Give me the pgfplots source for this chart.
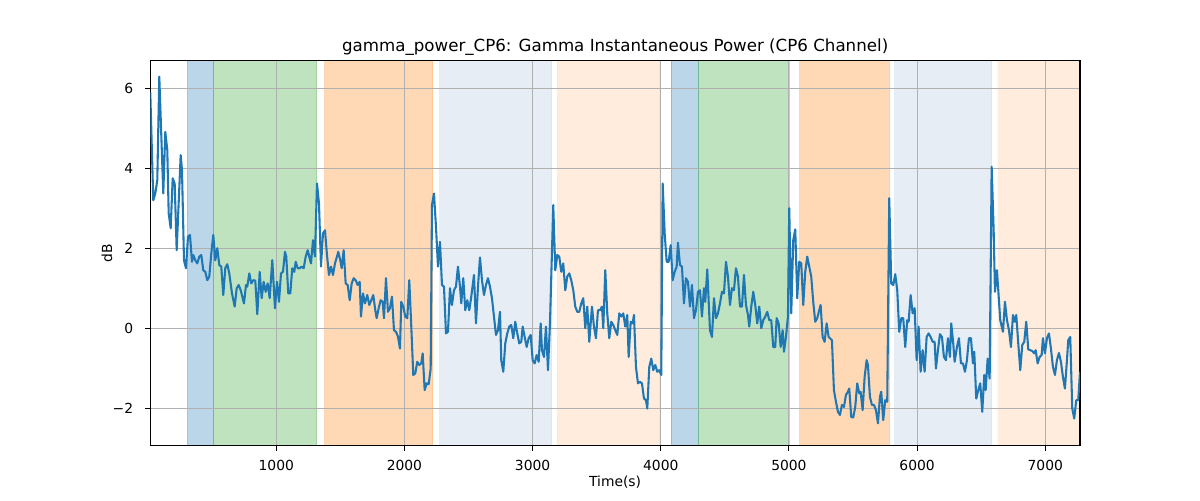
\documentclass[border=0pt]{standalone}
\usepackage{fontspec}
\setmainfont{DejaVu Sans}
\usepackage{pgfplots}
\pgfplotsset{compat=1.18}
\definecolor{tabblue}{HTML}{1F77B4}
\definecolor{taborange}{HTML}{FF7F0E}
\definecolor{tabgreen}{HTML}{2CA02C}
\definecolor{lsblue}{HTML}{B0C4DE}
\definecolor{peach}{HTML}{FFDAB9}
\definecolor{gridgray}{HTML}{B0B0B0}
\begin{document}
\begin{tikzpicture}
\begin{axis}[
 set layers,
 at={(0pt,0pt)}, anchor=south west,
 width=697.3pt, height=289.05pt, scale only axis,
 xmin=17, xmax=7271, ymin=-2.94, ymax=6.70,
 xtick={1000,2000,3000,4000,5000,6000,7000},
 xticklabels={1000,2000,3000,4000,5000,6000,7000},
 ytick={-2,0,2,4,6}, yticklabels={−2,0,2,4,6},
 grid=major, major grid style={gridgray, line width=0.83pt},
 tick align=outside, tick pos=left,
 major tick length=3.65pt, tick style={black, line width=0.83pt},
 axis line style={black, line width=0.83pt},
 ticklabel style={font=\fontsize{10.4}{12}\selectfont},
 xticklabel style={anchor=base, yshift=-15.2pt, inner sep=0pt},
 yticklabel style={anchor=east, xshift=-9pt, inner sep=0pt},
 every axis title shift=0pt,
 title={gamma\_power\_CP6: Gamma Instantaneous Power (CP6 Channel)},
 title style={at={(axis description cs:0.5,1.0216)}, anchor=base, font=\fontsize{12.5}{15}\selectfont, inner sep=0pt},
 xlabel={Time(s)},
 xlabel style={at={(axis description cs:0.5,-0.1046)}, anchor=base, font=\fontsize{10.4}{12}\selectfont, inner sep=0pt},
 ylabel={dB},
 ylabel style={at={(axis description cs:-0.0466,0.5)}, anchor=center, font=\fontsize{10.4}{12}\selectfont, inner sep=0pt},
]
% bands
\addplot[on layer=axis background, draw=tabblue, fill=tabblue, fill opacity=0.3, draw opacity=0.3, line width=0.75pt] coordinates {(306,-2.94) (509,-2.94) (509,6.70) (306,6.70) (306,-2.94)};
\addplot[on layer=axis background, draw=tabgreen, fill=tabgreen, fill opacity=0.3, draw opacity=0.3, line width=0.75pt] coordinates {(509,-2.94) (1315,-2.94) (1315,6.70) (509,6.70) (509,-2.94)};
\addplot[on layer=axis background, draw=taborange, fill=taborange, fill opacity=0.3, draw opacity=0.3, line width=0.75pt] coordinates {(1380,-2.94) (2220,-2.94) (2220,6.70) (1380,6.70) (1380,-2.94)};
\addplot[on layer=axis background, draw=lsblue, fill=lsblue, fill opacity=0.3, draw opacity=0.3, line width=0.75pt] coordinates {(2277,-2.94) (3149,-2.94) (3149,6.70) (2277,6.70) (2277,-2.94)};
\addplot[on layer=axis background, draw=peach, fill=peach, fill opacity=0.5, draw opacity=0.5, line width=0.75pt] coordinates {(3196,-2.94) (3994,-2.94) (3994,6.70) (3196,6.70) (3196,-2.94)};
\addplot[on layer=axis background, draw=tabblue, fill=tabblue, fill opacity=0.3, draw opacity=0.3, line width=0.75pt] coordinates {(4080,-2.94) (4293,-2.94) (4293,6.70) (4080,6.70) (4080,-2.94)};
\addplot[on layer=axis background, draw=tabgreen, fill=tabgreen, fill opacity=0.3, draw opacity=0.3, line width=0.75pt] coordinates {(4293,-2.94) (5003,-2.94) (5003,6.70) (4293,6.70) (4293,-2.94)};
\addplot[on layer=axis background, draw=taborange, fill=taborange, fill opacity=0.3, draw opacity=0.3, line width=0.75pt] coordinates {(5086,-2.94) (5783,-2.94) (5783,6.70) (5086,6.70) (5086,-2.94)};
\addplot[on layer=axis background, draw=lsblue, fill=lsblue, fill opacity=0.3, draw opacity=0.3, line width=0.75pt] coordinates {(5827,-2.94) (6582,-2.94) (6582,6.70) (5827,6.70) (5827,-2.94)};
\addplot[on layer=axis background, draw=peach, fill=peach, fill opacity=0.5, draw=none] coordinates {(6629,-2.94) (7271,-2.94) (7271,6.70) (6629,6.70) (6629,-2.94)};
% signal
\addplot[tabblue, line width=1.56pt, line join=round] coordinates {
(17,5.9) (40.6,3.20) (56.2,3.37) (71.8,3.70) (87.4,6.29) (118.6,3.37) (134.2,4.91) (149.8,4.46)
(160.7,2.87) (176.3,2.50) (191.9,3.75) (207.5,3.62) (223.1,1.95) (254.3,4.33) (264.5,3.96)
(280.1,1.70) (295.7,1.50) (311.3,2.29) (326.9,2.33) (342.5,1.66) (352.7,1.83) (368.3,1.70)
(383.9,1.62) (399.5,1.79) (415.1,1.83) (430.7,1.45) (446.3,1.41) (461.9,1.20) (477.5,1.29)
(493.1,1.87) (508.7,2.33) (524.3,1.70) (539.9,2.00) (555.5,1.58) (571.1,1.54) (586.7,0.83)
(602.3,1.50) (617.9,1.60) (633.5,1.37) (654.6,0.87) (675.7,0.54) (691.3,1.00) (706.9,1.08)
(722.5,0.95) (748.2,0.62) (763.8,1.08) (774.0,1.04) (789.6,1.37) (805.2,1.12) (820.8,1.20)
(836.4,1.19) (852.0,0.35) (870.7,1.41) (886.3,0.75) (901.9,1.16) (917.5,0.91) (933.1,1.12)
(948.7,0.75) (969.0,1.70) (990.1,0.50) (1005.7,1.16) (1021.3,0.66) (1036.9,1.37) (1052.5,1.41)
(1068.1,1.91) (1078.2,1.79) (1093.8,0.87) (1109.4,0.87) (1125.0,1.50) (1140.6,1.41) (1151.6,1.66)
(1167.2,1.50) (1182.8,1.50) (1198.4,1.54) (1214.0,1.50) (1229.6,1.79) (1245.2,1.95) (1260.8,1.75)
(1270.9,1.62) (1286.5,2.20) (1302.1,1.79) (1317.7,3.62) (1333.4,3.12) (1349.0,1.54) (1364.6,2.37)
(1380.2,2.45) (1395.8,1.83) (1411.4,1.33) (1427.0,1.54) (1442.6,1.33) (1458.2,1.62) (1473.8,1.79)
(1483.9,1.91) (1499.5,1.70) (1510.4,1.50) (1526.0,1.95) (1541.7,1.12) (1557.3,1.08) (1572.9,0.70)
(1588.5,1.12) (1604.1,1.25) (1619.7,1.20) (1635.3,1.08) (1650.9,1.16) (1661.0,0.29) (1676.6,0.87)
(1692.2,0.62) (1710.2,0.83) (1725.8,0.58) (1741.4,0.70) (1757.0,0.83) (1772.6,0.45) (1783.5,0.25)
(1799.1,0.50) (1814.7,0.70) (1830.3,0.66) (1840.5,0.25) (1856.1,1.25) (1871.7,0.41) (1887.3,0.50)
(1902.9,0.79) (1918.5,-0.05) (1934.1,-0.09) (1949.7,-0.21) (1965.3,-0.51) (1975.5,0.66) (1991.1,0.54)
(2006.7,0.29) (2022.3,0.25) (2037.9,1.20) (2053.5,0.04) (2069.1,-1.17) (2084.7,-1.13) (2100.3,-0.84)
(2115.9,-0.92) (2131.5,-0.88) (2142.4,-0.63) (2158.0,-1.55) (2173.6,-1.38) (2189.2,-1.40) (2204.9,-1.01)
(2215.0,3.08) (2230.6,3.37) (2246.2,2.54) (2261.8,1.54) (2277.4,2.16) (2293.0,1.08) (2308.6,1.04)
(2324.2,-0.13) (2339.8,-0.09) (2355.4,1.00) (2371.0,0.58) (2386.6,0.95) (2402.2,1.04) (2417.8,1.54)
(2433.4,1.04) (2443.6,0.62) (2459.2,1.25) (2474.8,0.45) (2490.4,0.70) (2506.0,0.45) (2521.6,0.79)
(2542.7,1.33) (2558.3,0.12) (2573.9,1.04) (2589.5,1.77) (2605.1,1.20) (2620.7,0.83) (2636.3,1.08)
(2651.9,1.25) (2667.5,1.04) (2683.1,0.75) (2698.7,0.29) (2714.3,-0.17) (2729.9,-0.05) (2745.5,0.41)
(2755.7,-0.80) (2771.3,-1.09) (2786.9,-0.38) (2802.5,-0.13) (2818.1,0.04) (2833.7,0.08) (2849.3,-0.25)
(2864.9,0.16) (2880.5,-0.13) (2896.1,-0.38) (2911.7,-0.34) (2922.6,0.04) (2938.2,-0.22) (2953.8,-0.47)
(2969.4,-0.25) (2985.0,-0.17) (3000.6,-0.80) (3016.3,-0.88) (3031.9,-0.67) (3047.5,-0.84) (3063.1,0.12)
(3073.2,-0.55) (3088.8,-0.72) (3104.4,0.04) (3120.0,-1.05) (3135.6,0.12) (3151.2,1.91) (3161.4,3.08)
(3177.0,1.45) (3192.6,1.83) (3208.2,1.79) (3223.8,1.41) (3239.4,1.62) (3255.0,0.95) (3270.6,1.29)
(3286.2,1.37) (3301.8,1.20) (3317.4,0.95) (3333.0,0.54) (3348.6,0.41) (3364.2,0.41) (3379.8,0.62)
(3395.4,0.75) (3411.0,0.00) (3426.6,0.54) (3442.2,-0.34) (3463.3,0.54) (3478.9,0.04) (3494.5,-0.25)
(3510.1,0.45) (3525.7,0.45) (3541.3,0.54) (3551.5,0.00) (3567.1,1.45) (3582.7,0.37) (3598.3,-0.25)
(3613.9,0.16) (3629.5,0.08) (3645.1,-0.05) (3660.7,-0.17) (3676.3,0.37) (3691.9,0.29) (3707.5,0.37)
(3723.1,0.04) (3738.7,0.33) (3749.6,-0.72) (3765.2,0.16) (3780.8,0.12) (3791.0,0.33) (3806.6,-0.97)
(3822.2,-1.38) (3837.8,-1.34) (3853.4,-1.38) (3869.0,-1.76) (3884.6,-1.80) (3894.8,-2.01) (3910.4,-0.97)
(3926.0,-0.76) (3941.6,-1.05) (3957.2,-0.92) (3972.8,-1.09) (3988.4,-1.05) (4004.0,-1.17) (4014.9,3.62)
(4030.5,2.37) (4046.1,1.66) (4061.7,1.66) (4077.3,2.08) (4092.9,1.20) (4108.5,1.41) (4124.1,1.54)
(4134.2,2.14) (4149.9,1.58) (4165.5,1.54) (4181.1,0.62) (4196.7,1.25) (4212.3,1.16) (4227.9,0.54)
(4243.5,1.08) (4259.1,0.25) (4274.7,0.45) (4290.3,0.91) (4305.9,0.95) (4321.5,0.29) (4337.1,1.00)
(4347.2,0.66) (4362.8,1.47) (4384.0,-0.05) (4399.6,-0.22) (4415.2,0.75) (4430.8,0.25) (4446.4,0.37)
(4462.0,0.62) (4477.6,0.91) (4493.2,0.87) (4508.8,1.66) (4524.4,1.29) (4540.0,0.58) (4555.6,1.00)
(4571.2,0.95) (4586.8,1.50) (4602.4,1.29) (4618.0,0.54) (4633.6,0.54) (4649.2,1.33) (4664.8,0.58)
(4680.4,0.33) (4690.5,0.04) (4706.1,0.54) (4721.7,0.91) (4737.3,0.58) (4752.9,0.12) (4768.5,0.54)
(4784.1,0.00) (4799.7,0.20) (4815.3,0.29) (4830.9,0.41) (4846.5,0.20) (4862.1,0.20) (4877.7,-0.47)
(4893.3,-0.47) (4904.2,0.25) (4919.8,0.12) (4935.4,-0.47) (4951.0,-0.05) (4961.1,-0.59) (4976.7,-0.22)
(4992.3,0.29) (5002.5,3.00) (5018.1,0.37) (5033.7,2.20) (5049.3,2.47) (5064.9,0.75) (5080.5,1.66)
(5096.1,1.62) (5111.7,0.58) (5127.3,1.41) (5142.9,1.79) (5158.5,1.54) (5174.1,1.29) (5189.7,0.66)
(5205.3,0.16) (5220.9,0.25) (5236.5,0.45) (5247.4,0.58) (5263.0,-0.22) (5278.6,-0.34) (5294.2,0.12)
(5309.8,-0.22) (5320.0,-0.25) (5335.6,-0.30) (5351.2,-1.55) (5366.8,-1.84) (5382.4,-2.09) (5398.0,-2.17)
(5413.6,-1.92) (5429.2,-1.97) (5444.8,-1.67) (5460.4,-1.59) (5470.6,-1.51) (5486.2,-2.22) (5501.8,-2.23)
(5517.4,-1.97) (5533.0,-1.38) (5548.6,-1.63) (5559.5,-1.59) (5575.1,-2.05) (5590.7,-1.22) (5606.3,-0.80)
(5616.5,-0.92) (5632.1,-1.72) (5647.7,-1.92) (5663.3,-1.92) (5678.9,-2.05) (5694.5,-2.38) (5710.1,-1.72)
(5720.2,-1.59) (5735.8,-2.30) (5751.4,-1.80) (5767.0,-1.84) (5782.7,3.25) (5798.3,1.12) (5813.9,1.08)
(5829.5,1.35) (5845.1,0.95) (5860.7,-0.09) (5876.3,0.25) (5891.9,0.25) (5907.5,-0.47) (5923.1,0.20)
(5934.0,0.16) (5949.6,0.83) (5965.2,0.37) (5980.8,0.50) (5996.4,-0.80) (6012.0,0.04) (6027.6,-1.09)
(6043.2,-0.55) (6058.8,-1.09) (6074.4,-0.22) (6090.0,-0.13) (6105.6,-0.22) (6121.2,-0.34) (6136.8,-0.34)
(6147.0,-1.01) (6162.6,-0.55) (6178.2,-0.15) (6193.8,-0.22) (6209.4,-0.72) (6225.0,-0.80) (6240.6,-0.25)
(6256.2,-0.72) (6266.3,0.12) (6281.9,-0.38) (6292.9,-0.84) (6311.0,-0.47) (6326.6,-0.25) (6342.2,-0.88)
(6357.8,-0.88) (6373.4,-1.09) (6389.0,-0.80) (6404.6,-0.25) (6420.2,-0.25) (6435.8,-0.88) (6445.9,-0.59)
(6461.5,-1.76) (6477.1,-1.55) (6492.7,-1.38) (6508.4,-2.09) (6524.0,-1.17) (6534.9,-1.55) (6550.5,-0.76)
(6566.1,-1.26) (6581.7,4.04) (6597.3,2.45) (6607.4,0.91) (6623.0,1.45) (6633.2,0.95) (6648.8,0.20)
(6669.9,-0.09) (6685.5,0.66) (6701.1,0.20) (6716.7,-0.05) (6732.3,-0.47) (6747.9,0.33) (6763.5,0.16)
(6773.7,0.33) (6789.3,-0.38) (6804.9,-1.05) (6820.5,-0.42) (6836.1,-0.34) (6851.7,0.16) (6867.3,-0.53)
(6882.9,-0.55) (6898.5,-0.57) (6914.1,-0.63) (6925.0,-0.55) (6940.6,-0.88) (6956.2,-0.72) (6971.8,-0.67)
(6981.9,-0.25) (6997.5,-0.63) (7013.1,-0.25) (7028.7,-0.13) (7044.3,-0.51) (7059.9,-0.97) (7075.5,-1.17)
(7091.1,-0.80) (7106.7,-0.62) (7122.3,-0.84) (7137.9,-1.22) (7153.5,-1.51) (7169.1,-0.80) (7179.3,-0.30)
(7194.9,-0.22) (7210.5,-2.01) (7226.1,-2.26) (7241.7,-1.80) (7257.3,-1.80) (7271,-1.09)
};
\end{axis}
\path (-112.7pt,-40.7pt) rectangle (787.3pt,334.3pt);
\end{tikzpicture}
\end{document}
